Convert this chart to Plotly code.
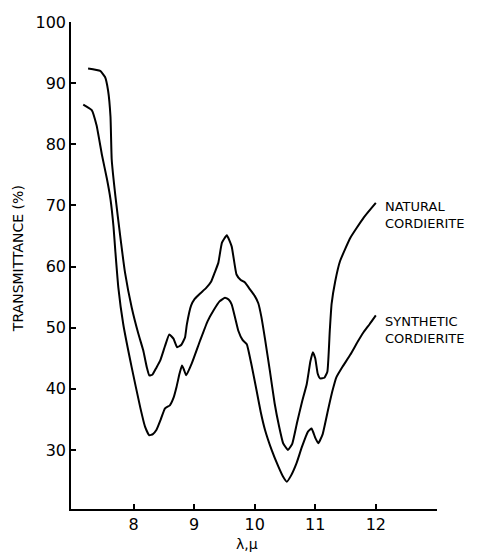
import plotly.graph_objects as go

# Natural cordierite
nat_x = [7.25, 7.45, 7.53, 7.58, 7.62, 7.64, 7.70, 7.78, 7.86, 7.97, 8.08, 8.16, 8.22, 8.26, 8.31, 8.38,
         8.44, 8.52, 8.59, 8.66, 8.72, 8.79, 8.85, 8.88, 8.95, 9.01, 9.10, 9.20, 9.28, 9.34, 9.40,
         9.46, 9.54, 9.62, 9.70, 9.77, 9.84, 9.92, 10.0, 10.06, 10.11, 10.17, 10.25, 10.33, 10.40,
         10.47, 10.55, 10.62, 10.70, 10.78, 10.86, 10.92, 10.96, 11.00, 11.04, 11.08, 11.15, 11.20,
         11.24, 11.27, 11.33, 11.41, 11.58, 11.80, 12.0]
nat_y = [92.4, 92.0, 91.0, 88.8, 84.5, 77.5, 71.6, 65.0, 59.0, 53.3, 49.0, 46.3, 43.5, 42.2, 42.3, 43.5,
         44.6, 47.0, 48.9, 48.2, 46.8, 47.2, 48.4, 50.5, 53.6, 54.7, 55.6, 56.5, 57.5, 59.0, 60.6,
         63.9, 65.1, 63.3, 58.7, 57.8, 57.4, 56.3, 55.2, 54.0, 51.8, 48.2, 43.0, 37.6, 34.0,
         31.1, 30.0, 31.0, 34.5, 37.8, 40.8, 44.5, 46.0, 45.0, 42.5, 41.7, 41.8, 42.8,
         49.5, 53.9, 57.6, 60.9, 64.7, 68.0, 70.4]

# Synthetic cordierite
syn_x = [7.17, 7.31, 7.39, 7.48, 7.56, 7.62, 7.67, 7.70, 7.75, 7.83, 7.97, 8.11, 8.19, 8.26, 8.32,
         8.38, 8.45, 8.52, 8.60, 8.66, 8.71, 8.76, 8.80, 8.83, 8.87, 8.96, 9.10, 9.22, 9.32, 9.42,
         9.51, 9.57, 9.62, 9.68, 9.73, 9.80, 9.87, 9.95, 10.03, 10.10, 10.17, 10.28, 10.39, 10.47,
         10.53, 10.60, 10.69, 10.78, 10.88, 10.94, 11.00, 11.05, 11.12, 11.21, 11.28, 11.35, 11.45,
         11.58, 11.70, 11.80, 11.90, 12.0]
syn_y = [86.5, 85.6, 83.1, 78.2, 74.4, 71.0, 66.5, 62.5, 56.5, 50.6, 43.5, 37.0, 33.8, 32.4, 32.6,
         33.3, 35.0, 36.8, 37.3, 38.5, 40.3, 42.5, 43.8, 43.2, 42.2, 44.1, 47.9, 51.0, 52.8, 54.3,
         54.9, 54.6, 53.8, 51.5, 49.5, 48.0, 47.3, 43.8, 39.8, 36.2, 33.3, 30.0, 27.3, 25.6,
         24.8, 25.8, 27.8, 30.5, 33.0, 33.5, 32.0, 31.1, 32.5, 36.5, 39.5, 41.9, 43.6,
         45.6, 47.7, 49.3, 50.6, 52.0]

x_ticks = [8, 9, 10, 11, 12]
y_ticks = [30, 40, 50, 60, 70, 80, 90, 100]

labels = [
    ("NATURAL<br>CORDIERITE", 12.12, 68.4),
    ("SYNTHETIC<br>CORDIERITE", 12.12, 49.6),
]

FONT = "DejaVu Sans"

fig = go.Figure()
for xs, ys in [(nat_x, nat_y), (syn_x, syn_y)]:
    fig.add_trace(go.Scatter(x=xs, y=ys, mode="lines",
                             line=dict(color="black", width=2, shape="spline", smoothing=0.4),
                             showlegend=False, hoverinfo="skip"))

for text, x, y in labels:
    fig.add_annotation(x=x, y=y, text=text, showarrow=False, xanchor="left", yanchor="middle",
                       align="left", font=dict(family=FONT, size=13, color="black"))

fig.add_annotation(xref="paper", yref="paper", x=-0.145, y=0.515, text="TRANSMITTANCE (%)",
                   textangle=-90, showarrow=False, xanchor="center", yanchor="middle",
                   font=dict(family=FONT, size=14, color="black"))
fig.add_annotation(xref="paper", yref="paper", x=0.481, y=-0.071, text="λ,μ",
                   showarrow=False, xanchor="center", yanchor="middle",
                   font=dict(family=FONT, size=14, color="black"))

fig.update_layout(
    width=483, height=546,
    margin=dict(l=63, r=54, t=14, b=45, autoexpand=False),
    paper_bgcolor="white", plot_bgcolor="white",
    font=dict(family=FONT, color="black"),
    xaxis=dict(range=[6.968, 13.01], tickvals=x_ticks, ticks="inside", ticklen=5,
               tickcolor="black", tickwidth=1.5, showline=True, linecolor="black", linewidth=1.5,
               showgrid=False, zeroline=False, automargin=False,
               tickfont=dict(family=FONT, size=16, color="black")),
    yaxis=dict(range=[20.34, 100], tickvals=y_ticks, ticks="inside", ticklen=5,
               tickcolor="black", tickwidth=1.5, showline=True, linecolor="black", linewidth=1.5,
               showgrid=False, zeroline=False, automargin=False,
               tickfont=dict(family=FONT, size=16, color="black")),
)

fig.write_html("out.html")
